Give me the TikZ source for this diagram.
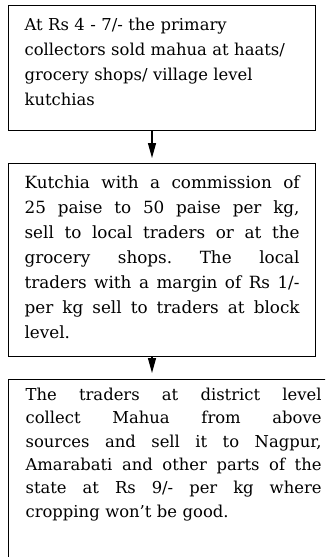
\documentclass[tikz,border=0pt]{standalone}
\usepackage{fontspec}
\setmainfont{DejaVu Serif}
\usetikzlibrary{arrows.meta}
\newcommand\fillline[1]{\leavevmode\hbox to \hsize{\frenchspacing\spaceskip=0pt\xspaceskip=0pt #1}}
\begin{document}
\begin{tikzpicture}[x=1pt,y=1pt,
    box/.style={draw,line width=1.2pt,anchor=north west,inner xsep=16pt,inner ysep=0pt,
      text width=275pt,align=left,font=\fontsize{16.4}{25}\selectfont},
    flow/.style={line width=1.2pt,-{Triangle[length=15pt,width=8pt]},shorten >=5pt}]
  \useasboundingbox (0,0) rectangle (325,-557);
  \clip (0,0) rectangle (325,-557);
  % the three stages
  \node[box,text height=25pt,text depth=100pt] (collect) at (8,-5)
    {At Rs 4 - 7/- the primary\\ collectors sold mahua at haats/\\ grocery shops/ village level\\ kutchias};
  \node[box,text height=25pt,text depth=168pt,font=\fontsize{16.8}{25}\selectfont] (kutchia) at (8,-163)
    {\fillline{Kutchia with a commission of}\\ \fillline{25 paise to 50 paise per kg,}\\
     \fillline{sell to local traders or at the}\\ \fillline{grocery shops. The local}\\
     \fillline{traders with a margin of Rs 1/-}\\ \fillline{per kg sell to traders at block}\\ level.};
  \node[box,text width=296pt,inner xsep=17pt,font=\fontsize{16.4}{23.3}\selectfont,
    text height=21pt,text depth=200pt] (district) at (8,-379)
    {\fillline{The traders at district level}\\ \fillline{collect Mahua from above}\\
     \fillline{sources and sell it to Nagpur,}\\ \fillline{Amarabati and other parts of the}\\
     \fillline{state at Rs 9/- per kg where}\\ cropping won’t be good.};
  % arrows
  \coordinate (ax) at (152,0);
  \draw[flow] (collect.south -| ax) -- (kutchia.north -| ax);
  \draw[flow,shorten >=6pt] (kutchia.south -| ax) -- (district.north -| ax);
\end{tikzpicture}
\end{document}
